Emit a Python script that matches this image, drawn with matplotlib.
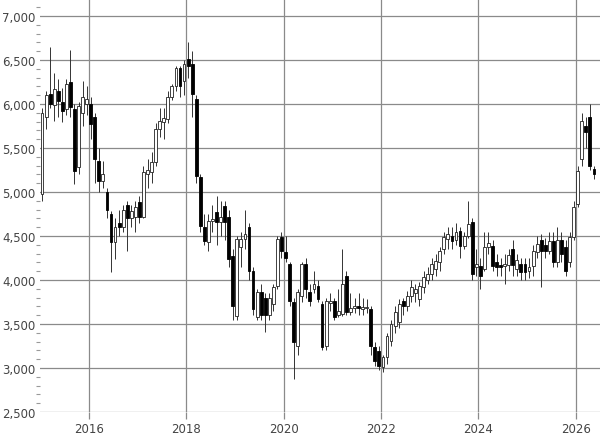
import matplotlib
matplotlib.use("Agg")
import matplotlib.pyplot as plt
import numpy as np
from matplotlib.ticker import FuncFormatter, MultipleLocator

# Monthly candles, Jan 2015 .. May 2026
opens = [4980,5850,6110,5990,6150,6020,5940,6250,5940,5280,5900,6000,
         6000,5850,5350,5120,5000,4750,4430,4650,4600,4850,4700,4720,
         4890,4720,5200,5230,5340,5720,5790,5830,6080,6200,6410,6260,
         6510,6450,6060,5170,4600,4430,4670,4770,4660,4840,4720,4270,
         3590,4380,4470,4600,4100,3580,3860,3790,3600,3730,3930,4490,
         4320,4180,3750,3250,3820,4180,3860,3900,3930,3730,3250,3740,
         3760,3600,3610,4050,3640,3680,3700,3670,3680,3670,3240,3190,
         3010,3120,3310,3480,3520,3760,3700,3820,3850,3780,3920,4000,
         4070,4120,4200,4350,4470,4500,4450,4560,4390,4500,4660,4150,
         4160,4130,4380,4390,4200,4170,4160,4170,4350,4120,4180,4180,
         4100,4160,4320,4450,4400,4330,4440,4210,4450,4380,4210,4490,
         4860,5380,5750,5850,5260]
closes = [5900,6100,6000,6170,6030,5920,6230,5970,5240,5980,6080,6060,
          5770,5370,5120,5200,4790,4430,4600,4600,4800,4700,4780,4830,
          4720,5230,5250,5340,5720,5810,5840,6080,6200,6410,6200,6450,
          6430,6110,5180,4610,4440,4670,4690,4660,4720,4660,4240,3700,
          4470,4470,4520,4100,3670,3860,3600,3600,3790,3920,4470,4330,
          4250,3760,3300,3860,4180,3900,3760,3950,3780,3240,3760,3760,
          3580,3650,3950,3640,3680,3700,3680,3690,3690,3250,3080,3020,
          3120,3360,3500,3640,3730,3700,3820,3920,3900,3930,4030,4070,
          4180,4220,4330,4490,4520,4440,4540,4390,4500,4640,4070,4180,
          4050,4380,4420,4160,4150,4150,4180,4280,4170,4230,4090,4090,
          4150,4330,4410,4330,4330,4440,4210,4450,4300,4100,4490,4830,
          5240,5810,5680,5290,5200]
highs = [5950,6150,6650,6350,6280,6180,6280,6610,6000,6020,6260,6200,
         6080,5900,5500,5350,5050,4780,4700,4800,4850,4900,4850,4900,
         4950,5300,5380,5450,5780,5950,5950,6150,6230,6430,6430,6500,
         6700,6600,6100,5200,4750,4750,4850,4950,4900,4900,4800,4350,
         4500,4550,4800,4650,4150,3900,3950,3850,3850,3950,4500,4550,
         4500,4200,3800,3900,4200,4250,3950,4100,4000,3760,3800,3850,
         3800,3900,4350,4100,3850,3800,3850,3800,3780,3700,3300,3250,
         3150,3400,3550,3700,3780,3800,3880,4000,3950,3980,4100,4150,
         4250,4300,4380,4550,4600,4600,4650,4600,4550,4900,4700,4350,
         4250,4550,4550,4450,4300,4250,4300,4350,4450,4300,4250,4250,
         4250,4400,4500,4520,4480,4550,4550,4600,4550,4450,4550,4900,
         5300,5900,5850,6000,5300]
lows = [4900,5720,5950,5810,5850,5800,5880,5850,5090,5200,5750,5880,
        5600,5100,5000,5050,4700,4090,4240,4500,4550,4330,4600,4550,
        4650,4700,5050,5100,5300,5620,5600,5780,6050,6150,6080,6100,
        6300,5850,5100,4550,4400,4330,4550,4400,4500,4450,4150,3550,
        3550,4150,4350,4000,3600,3550,3550,3410,3550,3650,3900,4250,
        4200,3700,2880,3150,3750,3800,3700,3850,3750,3200,3200,3650,
        3550,3580,3590,3600,3600,3620,3600,3600,3620,3150,3020,2980,
        2950,3050,3250,3400,3450,3600,3650,3750,3750,3700,3850,3950,
        4000,4050,4100,4300,4350,4350,4400,4250,4350,4480,4000,4050,
        3900,4100,4300,4100,4050,4050,3950,4100,4050,4050,4000,4000,
        4020,4050,4250,3920,4250,4300,4150,4150,4200,4050,4150,4450,
        4830,5300,5500,5250,5150]
year_ticks = [2016, 2018, 2020, 2022, 2024, 2026]

o = np.array(opens, float); c = np.array(closes, float)
h = np.array(highs, float); l = np.array(lows, float)
n = len(o)
x = 2015 + (np.arange(n) + 0.5) / 12.0

fig = plt.figure(figsize=(6.0, 4.39), dpi=100)
ax = fig.add_axes([40/600, 1 - 413/439, 560/600, 413/439])

ax.set_xlim(2015.0, 2015.0 + 560/48.7)
ax.set_ylim(2500, 7000 + 17/88*1000)

grid_c = '#8a8a8a'
for yv in range(2500, 7001, 500):
    ax.axhline(yv, color=grid_c, lw=0.9, zorder=0)
for xv in year_ticks:
    ax.axvline(xv, color=grid_c, lw=0.9, zorder=0)

ax.vlines(x, l, h, color='#333333', lw=0.7, zorder=2)
up = c >= o
w = 0.7 / 12
bottoms = np.minimum(o, c)
heights = np.maximum(np.abs(c - o), 15)
ax.bar(x[up], heights[up], bottom=bottoms[up], width=w, color='white',
       edgecolor='#222222', linewidth=0.6, zorder=3)
ax.bar(x[~up], heights[~up], bottom=bottoms[~up], width=w, color='black',
       edgecolor='black', linewidth=0.6, zorder=3)

for s in ax.spines.values():
    s.set_visible(False)

ax.set_yticks(range(2500, 7001, 500))
ax.yaxis.set_minor_locator(MultipleLocator(100))
ax.yaxis.set_major_formatter(FuncFormatter(lambda v, p: f"{int(v):,}"))
ax.tick_params(axis='y', which='major', length=0, pad=3, labelsize=8.5, labelcolor='#444444')
ax.tick_params(axis='y', which='minor', length=3, width=0.8, color='#999999')
ax.set_xticks(year_ticks)
ax.set_xticklabels([str(y) for y in year_ticks])
ax.tick_params(axis='x', length=5, width=0.9, color=grid_c, pad=2, labelsize=8.5, labelcolor='#444444')

fig.savefig("out.png", dpi=100)
